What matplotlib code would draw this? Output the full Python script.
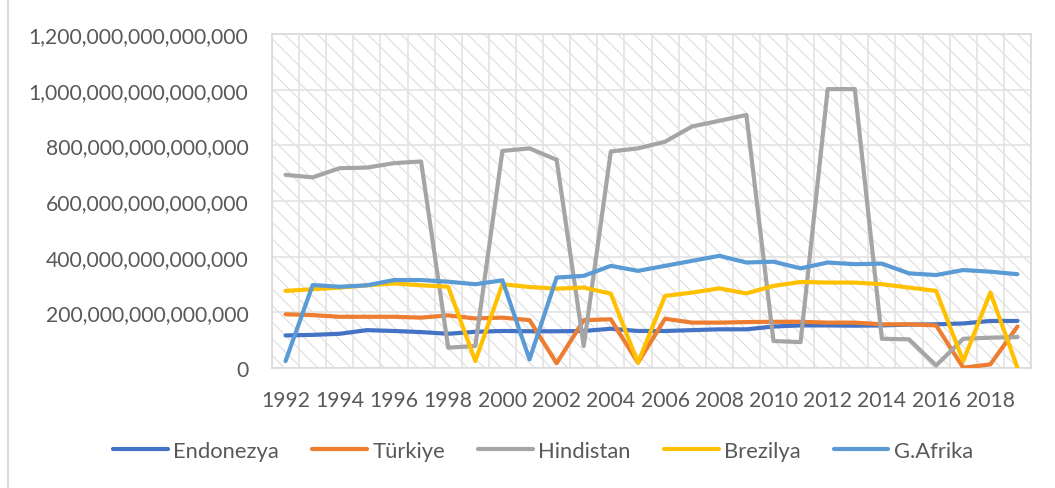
import matplotlib
matplotlib.use("Agg")
import matplotlib.pyplot as plt
from matplotlib.ticker import FuncFormatter, FixedLocator
from matplotlib.lines import Line2D
import numpy as np

years = list(range(1992, 2020))

# values in units of 1e12
endonezya = [117, 119, 123, 136, 133, 129, 123, 130, 133, 132, 132, 133, 141, 133,
             133, 136, 139, 139, 149, 153, 153, 152, 153, 156, 157, 160, 169, 169]
turkiye = [193, 190, 184, 184, 184, 181, 189, 178, 181, 172, 17, 172, 175, 19,
           177, 163, 163, 165, 166, 166, 163, 163, 157, 157, 153, 1, 13, 149]
hindistan = [694, 685, 718, 720, 736, 742, 73, 79, 780, 789, 748, 79, 778, 789,
             813, 868, 888, 909, 97, 93, 1002, 1002, 105, 103, 9, 105, 109, 111]
brezilya = [277, 283, 289, 297, 304, 297, 292, 25, 301, 291, 285, 289, 267, 19,
            259, 271, 286, 268, 295, 309, 307, 307, 301, 289, 277, 25, 271, 1]
gafrika = [25, 298, 292, 297, 316, 316, 310, 301, 315, 31, 325, 331, 367, 349,
           367, 385, 403, 379, 382, 358, 379, 373, 375, 340, 334, 352, 346, 337]

series = [
    ("Endonezya", endonezya, "#4472C4"),
    ("Türkiye", turkiye, "#ED7D31"),
    ("Hindistan", hindistan, "#A5A5A5"),
    ("Brezilya", brezilya, "#FFC000"),
    ("G.Afrika", gafrika, "#5B9BD5"),
]

plt.rcParams['font.family'] = ['Lato', 'DejaVu Sans']
plt.rcParams['hatch.linewidth'] = 0.8
plt.rcParams['hatch.color'] = '#DEDEDE'

W, H = 1055, 489
fig = plt.figure(figsize=(W / 100, H / 100), dpi=100)
ax = fig.add_axes([272 / W, 1 - 369 / H, (1031 - 272) / W, (369 - 35) / H])

# hatched background
ax.add_patch(plt.Rectangle((0, 0), 1, 1, transform=ax.transAxes,
                           facecolor='white', edgecolor='#DEDEDE',
                           hatch='\\\\', linewidth=0, zorder=0))

x = np.arange(len(years))
for name, vals, col in series:
    ax.plot(x, np.array(vals) * 1e12, color=col, lw=3.0, label=name,
            solid_joinstyle='round', solid_capstyle='round', zorder=3)

ax.set_xlim(-0.5, len(years) - 0.5)
ax.set_ylim(0, 1.2e15)
ax.set_yticks(np.arange(0, 1.2e15 + 1, 2e14))
ax.yaxis.set_major_formatter(FuncFormatter(lambda v, p: f"{v:,.0f}"))
ax.set_xticks(x[::2])
ax.set_xticklabels([str(y) for y in years[::2]])
ax.xaxis.set_minor_locator(FixedLocator(np.arange(-0.5, len(years), 1)))

ax.grid(which='minor', axis='x', color='#E3E3E3', lw=1.2, zorder=1)
ax.grid(which='major', axis='y', color='#E3E3E3', lw=1.2, zorder=1)
ax.set_axisbelow(True)

ax.tick_params(axis='both', which='both', length=0)
ax.tick_params(axis='y', pad=17, labelsize=15.2, labelcolor='#595959')
ax.tick_params(axis='x', pad=16, labelsize=15.2, labelcolor='#595959')
for s in ax.spines.values():
    s.set_color('#D9D9D9')
    s.set_linewidth(1.2)

handles = [Line2D([], [], color=c, lw=3.0, solid_capstyle='round') for _, _, c in series]
leg = fig.legend(handles, [n for n, _, _ in series], loc='center',
                 bbox_to_anchor=(543 / W, 1 - 452 / H), ncol=5, frameon=False,
                 fontsize=15.8, handlelength=2.5, handletextpad=0.25,
                 columnspacing=1.5)
for t in leg.get_texts():
    t.set_color('#595959')

fig.add_artist(Line2D([8 / W, 8 / W], [0, 1], transform=fig.transFigure,
                      color='#D9D9D9', lw=1.5))

fig.savefig("out.png", dpi=100)
